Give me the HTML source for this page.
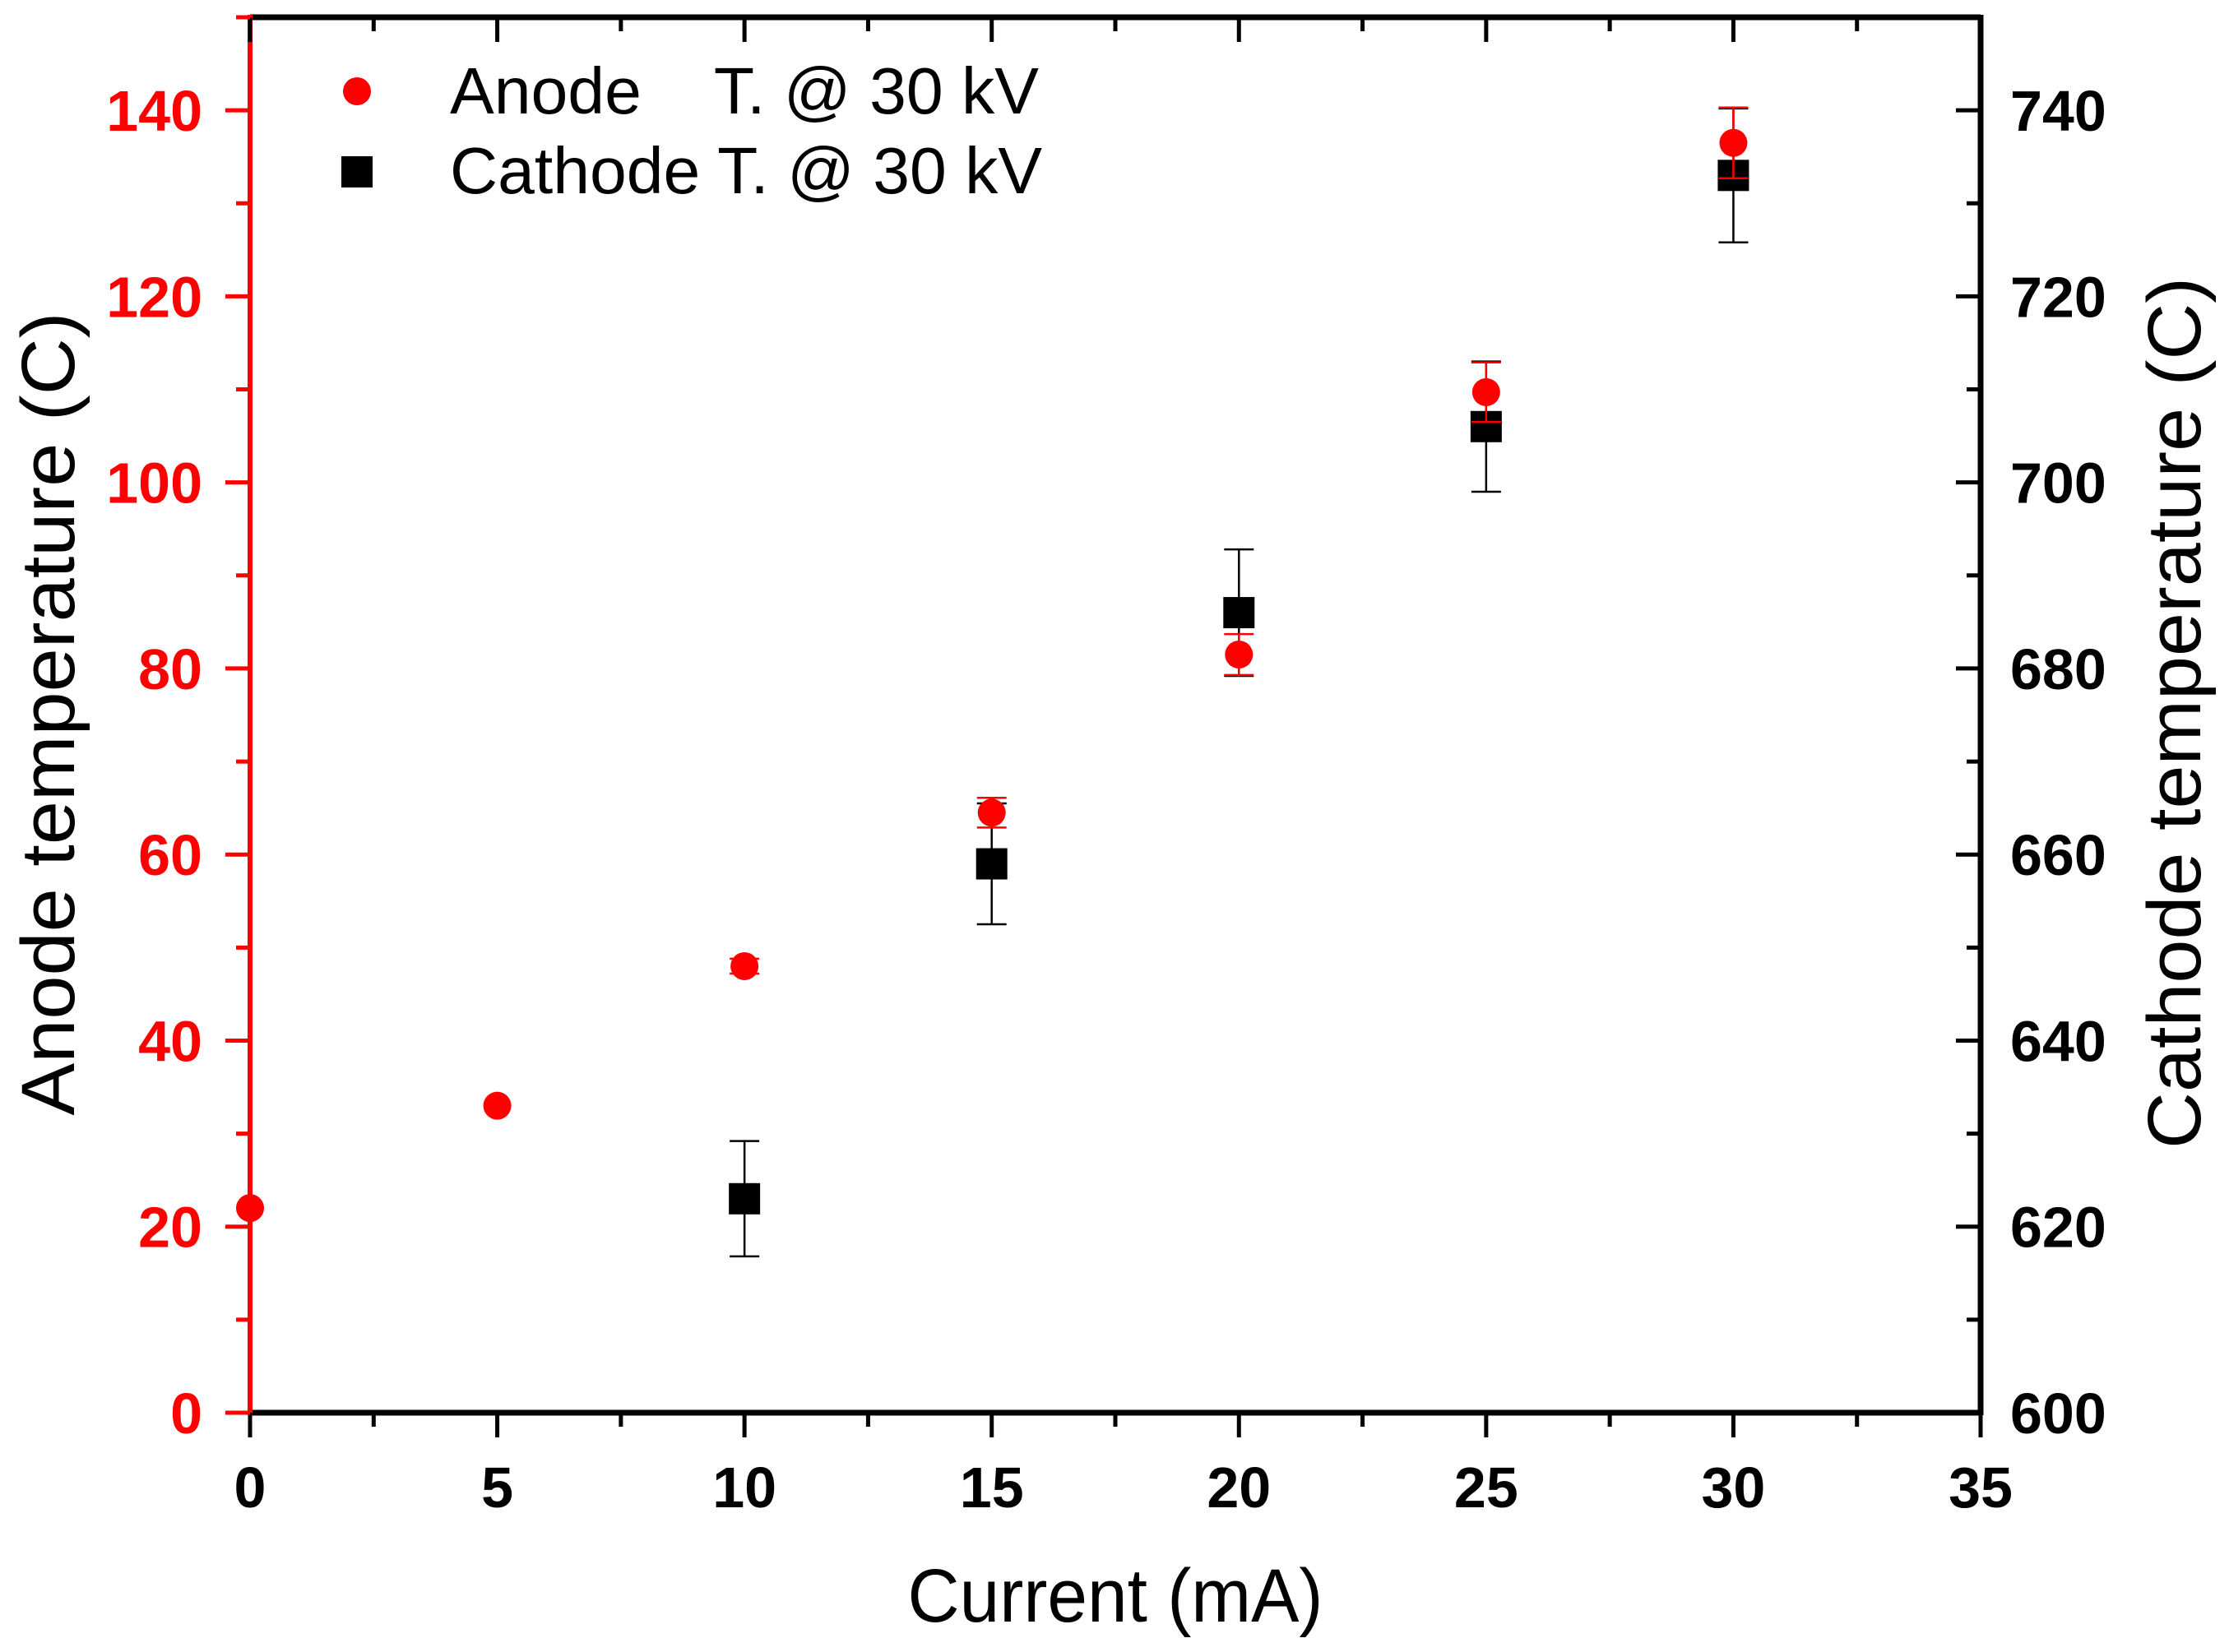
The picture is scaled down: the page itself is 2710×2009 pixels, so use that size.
<!DOCTYPE html>
<html><head><meta charset="utf-8"><style>
html,body{margin:0;padding:0;background:#fff}
svg{display:block}
text{font-family:"Liberation Sans",Arial,sans-serif}
</style></head><body>
<svg id="chart" width="2710" height="2009" viewBox="0 0 2710 2009">
<g id="axes"></g><g id="marks"></g>
<g>
<circle cx="434" cy="111" r="17" fill="#ff0000"/>
<text x="547" y="138" font-size="80" textLength="716" lengthAdjust="spacingAndGlyphs" xml:space="preserve">Anode    T. @ 30 kV</text>
<rect x="415" y="190" width="38" height="38" fill="#000"/>
<text x="547" y="235" font-size="80" textLength="720" lengthAdjust="spacingAndGlyphs">Cathode T. @ 30 kV</text>
</g>
<text x="1356" y="1972" font-size="92" text-anchor="middle" textLength="505" lengthAdjust="spacingAndGlyphs">Current (mA)</text>
<text transform="translate(90,868) rotate(-90)" font-size="92" text-anchor="middle" textLength="977" lengthAdjust="spacingAndGlyphs">Anode temperature (C)</text>
<text transform="translate(2675,867) rotate(-90)" font-size="92" text-anchor="middle" textLength="1060" lengthAdjust="spacingAndGlyphs">Cathode temperature (C)</text>
</svg>
<script>
const xTicks=[0,5,10,15,20,25,30,35];
const leftTicks=[0,20,40,60,80,100,120,140];
const rightTicks=[600,620,640,660,680,700,720,740];
const anodeX=[0,5,10,15,20,25,30];
const anodeY=[22,33,48,64.5,81.5,109.7,136.5];
const anodeErr=[0,0,0.8,1.6,2.2,3.2,3.8];
const cathodeX=[10,15,20,25,30];
const cathodeY=[623,659,686,706,733];
const cathodeErr=[6.2,6.5,6.8,7,7.2];

const L=304,R=2408,T=21,B=1718;
const sx=v=>L+(v-0)/(35-0)*(R-L);
const syL=v=>B-(v-0)/(150-0)*(B-T);
const syR=v=>B-(v-600)/(150)*(B-T);
const NS="http://www.w3.org/2000/svg";
const axes=document.getElementById('axes'),marks=document.getElementById('marks');
function mk(tag,attrs,parent){const e=document.createElementNS(NS,tag);for(const k in attrs)e.setAttribute(k,attrs[k]);parent.appendChild(e);return e;}

let e;
e=mk('line',{x1:L,y1:B,x2:R,y2:B,stroke:'#000','stroke-width':7},axes);

e=mk('line',{x1:L,y1:T,x2:R,y2:T,stroke:'#000','stroke-width':7},axes);

e=mk('line',{x1:R,y1:T-3,x2:R,y2:B+3,stroke:'#000','stroke-width':7},axes);

e=mk('line',{x1:L,y1:T-3,x2:L,y2:B+3,stroke:'#ff0000','stroke-width':6},axes);


for(let i=0;i<xTicks.length;i++){
 const x=sx(xTicks[i]);
 e=mk('line',{x1:x,y1:B,x2:x,y2:B+30,stroke:'#000','stroke-width':5},axes);
 
 mk('line',{x1:x,y1:T,x2:x,y2:T+30,stroke:'#000','stroke-width':5},axes);
 if(i<xTicks.length-1){const xm=sx(xTicks[i]+2.5);
  mk('line',{x1:xm,y1:B,x2:xm,y2:B+17,stroke:'#000','stroke-width':5},axes);
  mk('line',{x1:xm,y1:T,x2:xm,y2:T+17,stroke:'#000','stroke-width':5},axes);}
 e=mk('text',{x:x,y:B+115,'font-size':70,'font-weight':'bold','text-anchor':'middle'},axes);
 e.textContent=xTicks[i];
 
}
for(let i=0;i<leftTicks.length;i++){
 const y=syL(leftTicks[i]);
 e=mk('line',{x1:L-30,y1:y,x2:L,y2:y,stroke:'#ff0000','stroke-width':5},axes);
 
 const ym=syL(leftTicks[i]+10);
 mk('line',{x1:L-17,y1:ym,x2:L,y2:ym,stroke:'#ff0000','stroke-width':5},axes);
 e=mk('text',{x:L-58,y:y+25,'font-size':70,'font-weight':'bold','text-anchor':'end',fill:'#ff0000'},axes);
 e.textContent=leftTicks[i];
 
}
for(let i=0;i<rightTicks.length;i++){
 const y=syR(rightTicks[i]);
 e=mk('line',{x1:R-30,y1:y,x2:R,y2:y,stroke:'#000','stroke-width':5},axes);
 
 const ym=syR(rightTicks[i]+10);
 mk('line',{x1:R-17,y1:ym,x2:R,y2:ym,stroke:'#000','stroke-width':5},axes);
 e=mk('text',{x:R+36,y:y+25,'font-size':70,'font-weight':'bold'},axes);
 e.textContent=rightTicks[i];
 
}
for(let i=0;i<cathodeX.length;i++){
 const x=sx(cathodeX[i]),y=syR(cathodeY[i]),y1=syR(cathodeY[i]-cathodeErr[i]),y2=syR(cathodeY[i]+cathodeErr[i]);
 e=mk('g',{},marks);
 
 mk('line',{x1:x,y1:y1,x2:x,y2:y2,stroke:'#000','stroke-width':2.5},e);
 mk('line',{x1:x-18,y1:y1,x2:x+18,y2:y1,stroke:'#000','stroke-width':2.5},e);
 mk('line',{x1:x-18,y1:y2,x2:x+18,y2:y2,stroke:'#000','stroke-width':2.5},e);
 e=mk('rect',{x:x-19,y:y-19,width:38,height:38,fill:'#000'},marks);
 
}
for(let i=0;i<anodeX.length;i++){
 const x=sx(anodeX[i]),y=syL(anodeY[i]);
 e=mk('circle',{cx:x,cy:y,r:17,fill:'#ff0000'},marks);
 
 if(anodeErr[i]>0){const y1=syL(anodeY[i]-anodeErr[i]),y2=syL(anodeY[i]+anodeErr[i]);
  e=mk('g',{},marks);
  
  mk('line',{x1:x,y1:y1,x2:x,y2:y2,stroke:'#ff0000','stroke-width':2.5},e);
  mk('line',{x1:x-18,y1:y1,x2:x+18,y2:y1,stroke:'#ff0000','stroke-width':2.5},e);
  mk('line',{x1:x-18,y1:y2,x2:x+18,y2:y2,stroke:'#ff0000','stroke-width':2.5},e);}
}
</script>
</body></html>
